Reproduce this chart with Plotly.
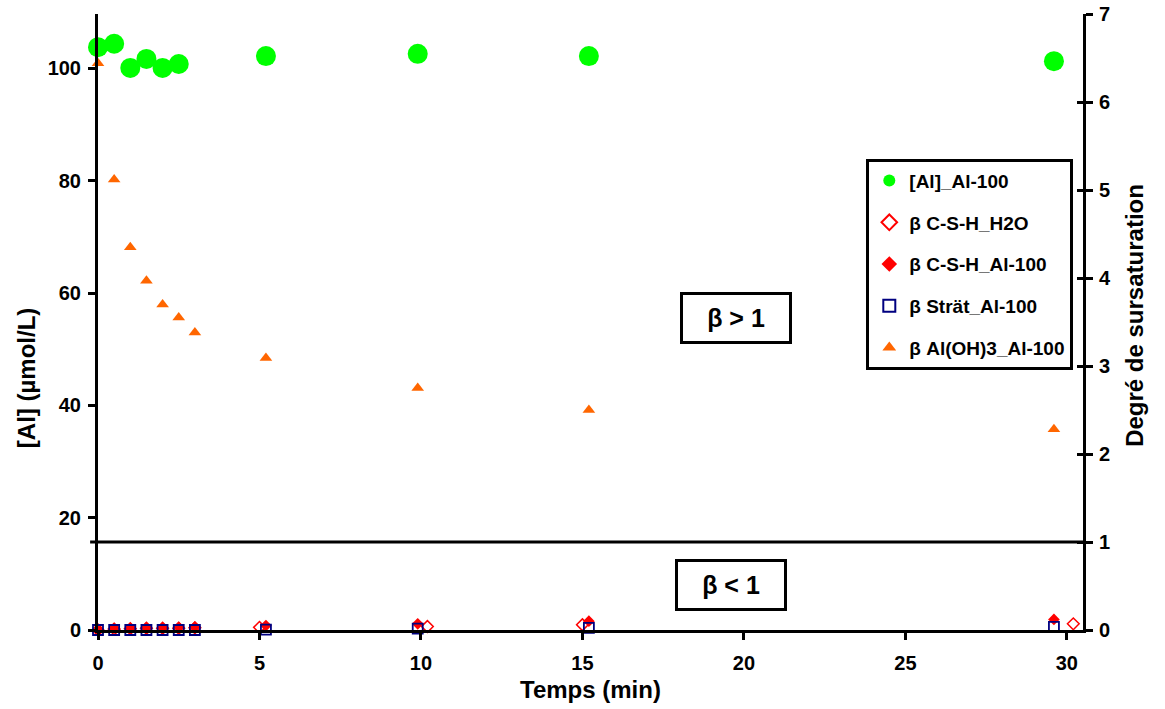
import plotly.graph_objects as go

# ---------------- data ----------------
t_al = [0, 0.5, 1, 1.5, 2, 2.5, 5.2, 9.9, 15.2, 29.6]
al_conc = [103.8, 104.4, 100.1, 101.7, 100.1, 100.8, 102.2, 102.6, 102.2, 101.3]

t_h2o = [0, 0.5, 1, 1.5, 2, 2.5, 3, 5.0, 10.2, 15.0, 30.2]
beta_csh_h2o = [0.0, 0.01, 0.015, 0.02, 0.02, 0.02, 0.025, 0.03, 0.04, 0.06, 0.07]

t_beta = [0, 0.5, 1, 1.5, 2, 2.5, 3, 5.2, 9.9, 15.2, 29.6]
beta_csh_al = [0.0, 0.02, 0.02, 0.025, 0.025, 0.03, 0.035, 0.05, 0.07, 0.10, 0.12]
beta_strat = [0.0, 0.0, 0.0, 0.0, 0.0, 0.0, 0.0, 0.005, 0.015, 0.025, 0.035]
beta_aloh3 = [6.44, 5.12, 4.35, 3.97, 3.70, 3.55, 3.38, 3.09, 2.75, 2.50, 2.28]

names = ["[Al]_Al-100", "β C-S-H_H2O", "β C-S-H_Al-100", "β Strät_Al-100", "β Al(OH)3_Al-100"]
x_ticks = [0, 5, 10, 15, 20, 25, 30]
y_ticks = [0, 20, 40, 60, 80, 100]
y2_ticks = [0, 1, 2, 3, 4, 5, 6, 7]

FONT = "Liberation Sans, Arial, sans-serif"

fig = go.Figure()
fig.add_trace(go.Scatter(x=t_al, y=al_conc, mode="markers", name=names[0], legendgroup="a",
                         marker=dict(symbol="circle", size=20, color="#00FF00"),
                         cliponaxis=False))
fig.add_trace(go.Scatter(x=t_h2o, y=beta_csh_h2o, mode="markers", name=names[1], legendgroup="b",
                         yaxis="y2",
                         marker=dict(symbol="diamond-open", size=9, color="#FF0000",
                                     line=dict(width=1.5, color="#FF0000")),
                         cliponaxis=False))
fig.add_trace(go.Scatter(x=t_beta, y=beta_csh_al, mode="markers", name=names[2], legendgroup="c",
                         yaxis="y2",
                         marker=dict(symbol="diamond", size=9, color="#FF0000"),
                         cliponaxis=False))
fig.add_trace(go.Scatter(x=t_beta, y=beta_strat, mode="markers", name=names[3], legendgroup="d",
                         yaxis="y2",
                         marker=dict(symbol="square-open", size=10, color="#000080",
                                     line=dict(width=1.8, color="#000080")),
                         cliponaxis=False))
fig.add_trace(go.Scatter(x=t_beta, y=beta_aloh3, mode="markers", name=names[4], legendgroup="e",
                         yaxis="y2",
                         marker=dict(symbol="triangle-up", size=11, color="#FF6600"),
                         cliponaxis=False))
# empty helper trace so the inner-tick axis (y3) is drawn
fig.add_trace(go.Scatter(x=[], y=[], yaxis="y3", showlegend=False, hoverinfo="skip"))

tickfont = dict(family=FONT, size=20, color="black", weight="bold")
titlefont = dict(family=FONT, size=24, color="black", weight="bold")

fig.update_layout(
    width=1165, height=709,
    margin=dict(l=98, r=82, t=14, b=79),
    paper_bgcolor="white", plot_bgcolor="white",
    showlegend=True,
    legend=dict(x=0.780, y=0.765, xanchor="left", yanchor="top",
                bgcolor="white", bordercolor="black", borderwidth=3,
                font=dict(family=FONT, size=19, color="black", weight="bold"),
                tracegroupgap=14, itemsizing="constant"),
    xaxis=dict(range=[0, 30.5], tickvals=x_ticks, showgrid=False, zeroline=False,
               automargin=False, ticklabeloverflow="allow",
               showline=True, linecolor="black", linewidth=3,
               ticks="outside", ticklen=7, tickwidth=3, tickcolor="black",
               tickfont=tickfont, ticklabelstandoff=6),
    yaxis=dict(range=[0, 109.7], tickvals=y_ticks, showgrid=False, zeroline=False,
               automargin=False, ticklabeloverflow="allow",
               showline=True, linecolor="black", linewidth=3,
               ticks="outside", ticklen=7, tickwidth=3, tickcolor="black",
               tickfont=tickfont, ticklabelstandoff=3),
    yaxis2=dict(range=[0, 7], tickvals=y2_ticks, overlaying="y", side="right",
                showgrid=False, zeroline=False, automargin=False,
                ticklabeloverflow="allow",
                showline=True, linecolor="black", linewidth=3,
                ticks="outside", ticklen=7, tickwidth=3, tickcolor="black",
                tickfont=tickfont, ticklabelstandoff=2),
    # inner half of the cross ticks on the right axis
    yaxis3=dict(range=[0, 7], tickvals=y2_ticks, overlaying="y", side="right",
                showgrid=False, zeroline=False, automargin=False,
                showline=False, showticklabels=False,
                ticks="inside", ticklen=6, tickwidth=3, tickcolor="black"),
)

# beta = 1 boundary line
fig.add_shape(type="line", xref="paper", yref="y2", x0=-0.008, x1=1.0, y0=1, y1=1,
              line=dict(color="black", width=3))

# axis titles
fig.add_annotation(text="[Al] (µmol/L)", xref="paper", yref="paper", x=-0.073, y=0.409,
                   xanchor="center", yanchor="middle", textangle=-90, showarrow=False,
                   font=titlefont)
fig.add_annotation(text="Degré de sursaturation", xref="paper", yref="paper", x=1.0528, y=0.51,
                   xanchor="center", yanchor="middle", textangle=-90, showarrow=False,
                   font=titlefont)
fig.add_annotation(text="Temps (min)", xref="paper", yref="paper", x=0.5, y=-0.0974,
                   xanchor="center", yanchor="middle", showarrow=False, font=titlefont)

# beta boxes
boxfont = dict(family=FONT, size=25, color="black", weight="bold")
fig.add_annotation(text="β > 1", xref="paper", yref="paper", x=0.648, y=0.506,
                   xanchor="center", yanchor="middle", showarrow=False, font=boxfont,
                   width=106, height=46, borderpad=0, bordercolor="black", borderwidth=3,
                   bgcolor="white")
fig.add_annotation(text="β < 1", xref="paper", yref="paper", x=0.6426, y=0.073,
                   xanchor="center", yanchor="middle", showarrow=False, font=boxfont,
                   width=106, height=46, borderpad=0, bordercolor="black", borderwidth=3,
                   bgcolor="white")

# remove the default 8px page margin so the figure sits at the window's top-left corner
fig.write_html("out.html", config={"displayModeBar": False},
               post_script="document.body.style.margin='0px';")
